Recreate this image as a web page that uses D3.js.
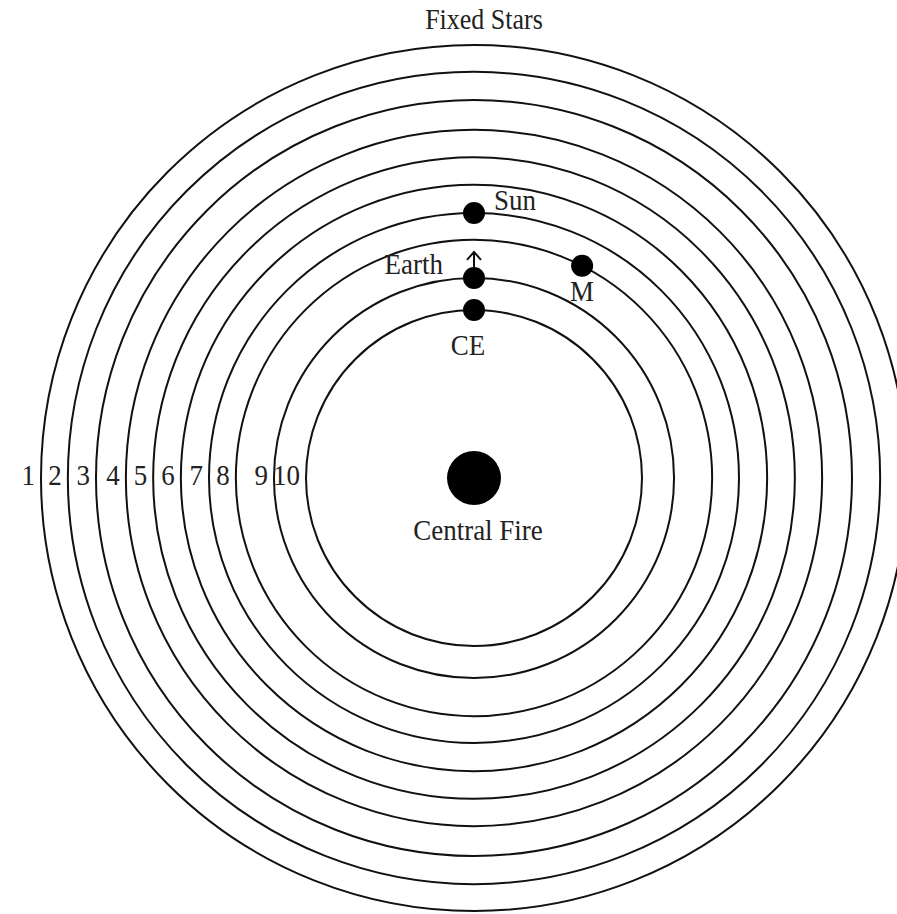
<!DOCTYPE html>
<html>
<head>
<meta charset="utf-8">
<script src="https://cdn.jsdelivr.net/npm/d3@7"></script>
<style>
  html, body { margin: 0; padding: 0; background: #fff; }
  svg { display: block; }
  text { font-family: "Liberation Serif", "DejaVu Serif", serif; fill: #222; }
</style>
</head>
<body>
<svg id="chart" width="897" height="914"></svg>
<script>
// Orbit numbers (outermost = 1) and their relative radii (outermost = 100)
const orbitNumbers = [1, 2, 3, 4, 5, 6, 7, 8, 9, 10];
const orbitRadii = [100, 93.8, 87.3, 80.4, 74.1, 67.7, 61.2, 55.0, 46.2, 38.8];
// Bodies placed on orbits: angle in degrees clockwise from "up"
const bodyNames = ["Sun", "Earth", "CE", "M"];
const bodyOrbits = [7, 9, 10, 8];
const bodyAngles = [0, 0, 0, 27];
const centreLabel = "Central Fire";
const outerLabel = "Fixed Stars";

const svg = d3.select("#chart");
const cx = 474, cy = 478;
const stretch = 1.12;
const r = d3.scaleLinear().domain([0, 100]).range([0, 433]);
const g = svg.append("g").attr("transform", `translate(${cx},${cy})`);

const orbits = orbitNumbers.map((n, i) => ({ n, r: orbitRadii[i] }));

g.selectAll("circle.orbit").data(orbits).join("circle")
  .attr("class", "orbit")
  .attr("r", d => r(d.r))
  .attr("fill", "none")
  .attr("stroke", "#111")
  .attr("stroke-width", 2);

g.selectAll("text.num").data(orbits).join("text")
  .attr("class", "num")
  .attr("transform", d => `translate(${-r(d.r) - 6},7) scale(1,${stretch})`)
  .attr("text-anchor", "end")
  .attr("font-size", 27)
  .text(d => d.n);

// central fire
g.append("circle").attr("r", 27).attr("fill", "#000");
g.append("text").attr("transform", `translate(4,62) scale(1,${stretch})`).attr("text-anchor", "middle")
  .attr("font-size", 27).text(centreLabel);

// fixed stars label
svg.append("text").attr("transform", `translate(484,29) scale(1,${stretch})`).attr("text-anchor", "middle")
  .attr("font-size", 26).text(outerLabel);

const bodies = bodyNames.map((name, i) => {
  const rad = r(orbitRadii[orbitNumbers.indexOf(bodyOrbits[i])]);
  const a = bodyAngles[i] * Math.PI / 180;
  return { name, x: rad * Math.sin(a), y: -rad * Math.cos(a) };
});

g.selectAll("circle.body").data(bodies).join("circle")
  .attr("class", "body")
  .attr("cx", d => d.x).attr("cy", d => d.y)
  .attr("r", 11).attr("fill", "#000");

const labelPos = {
  Sun: { dx: 20, dy: -3, anchor: "start" },
  Earth: { dx: -31, dy: -4, anchor: "end" },
  CE: { dx: -6, dy: 45, anchor: "middle" },
  M: { dx: 0, dy: 35, anchor: "middle" }
};
g.selectAll("text.body").data(bodies).join("text")
  .attr("class", "body")
  .attr("transform", d => `translate(${d.x + labelPos[d.name].dx},${d.y + labelPos[d.name].dy}) scale(1,${stretch})`)
  .attr("text-anchor", d => labelPos[d.name].anchor)
  .attr("font-size", 27)
  .text(d => d.name);

// arrow above Earth
const earth = bodies[1];
g.append("path")
  .attr("d", `M${earth.x},${earth.y - 10} L${earth.x},${earth.y - 26} M${earth.x - 7},${earth.y - 18} L${earth.x},${earth.y - 26} L${earth.x + 7},${earth.y - 18}`)
  .attr("fill", "none").attr("stroke", "#111").attr("stroke-width", 2);
</script>
</body>
</html>
